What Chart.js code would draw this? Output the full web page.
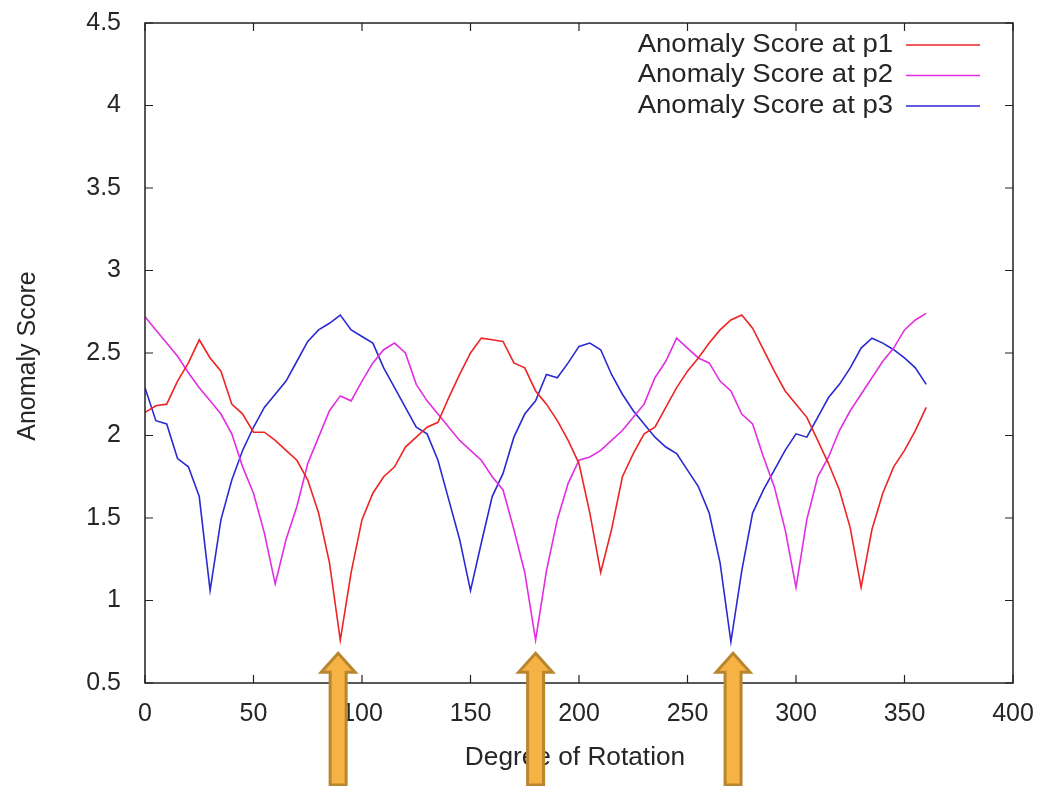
<!DOCTYPE html>
<html>
<head>
<meta charset="utf-8">
<script src="https://cdn.jsdelivr.net/npm/chart.js@4.4.1/dist/chart.umd.min.js"></script>
<style>
  html, body { margin: 0; padding: 0; background: #fff; }
  #wrap { width: 1038px; height: 786px; }
</style>
</head>
<body>
<div id="wrap"><canvas id="myChart" width="1038" height="786"></canvas></div>
<script>
// degree of rotation, every 5 degrees
var degrees = [0, 5, 10, 15, 20, 25, 30, 35, 40, 45, 50, 55, 60, 65, 70, 75, 80, 85, 90, 95,
  100, 105, 110, 115, 120, 125, 130, 135, 140, 145, 150, 155, 160, 165, 170, 175, 180, 185, 190, 195,
  200, 205, 210, 215, 220, 225, 230, 235, 240, 245, 250, 255, 260, 265, 270, 275, 280, 285, 290, 295,
  300, 305, 310, 315, 320, 325, 330, 335, 340, 345, 350, 355, 360];

var scoreP1 = [2.14, 2.18, 2.19, 2.33, 2.44, 2.58, 2.47, 2.39, 2.19, 2.13, 2.02, 2.02, 1.97, 1.91, 1.85, 1.73, 1.53, 1.23, 0.76, 1.17,
  1.49, 1.65, 1.75, 1.81, 1.93, 1.99, 2.05, 2.08, 2.23, 2.37, 2.50, 2.59, 2.58, 2.57, 2.44, 2.41, 2.27, 2.19, 2.09, 1.97,
  1.83, 1.53, 1.17, 1.43, 1.75, 1.89, 2.01, 2.05, 2.17, 2.29, 2.39, 2.47, 2.56, 2.64, 2.70, 2.73, 2.65, 2.52, 2.39, 2.27,
  2.19, 2.11, 1.97, 1.83, 1.67, 1.44, 1.08, 1.43, 1.65, 1.81, 1.91, 2.03, 2.17];

var scoreP2 = [2.72, 2.64, 2.56, 2.48, 2.38, 2.29, 2.21, 2.13, 2.01, 1.81, 1.65, 1.41, 1.10, 1.37, 1.57, 1.83, 1.99, 2.15, 2.24, 2.21,
  2.33, 2.44, 2.52, 2.56, 2.50, 2.31, 2.21, 2.13, 2.05, 1.97, 1.91, 1.85, 1.75, 1.67, 1.43, 1.17, 0.76, 1.18, 1.49, 1.71,
  1.85, 1.87, 1.91, 1.97, 2.03, 2.11, 2.19, 2.35, 2.45, 2.59, 2.53, 2.47, 2.44, 2.33, 2.27, 2.13, 2.07, 1.87, 1.69, 1.43,
  1.08, 1.49, 1.75, 1.87, 2.03, 2.15, 2.25, 2.35, 2.45, 2.53, 2.64, 2.70, 2.74];

var scoreP3 = [2.29, 2.09, 2.07, 1.86, 1.81, 1.63, 1.06, 1.49, 1.73, 1.91, 2.05, 2.17, 2.25, 2.33, 2.45, 2.57, 2.64, 2.68, 2.73, 2.64,
  2.60, 2.56, 2.41, 2.29, 2.17, 2.05, 2.01, 1.85, 1.61, 1.37, 1.06, 1.35, 1.63, 1.77, 1.99, 2.13, 2.21, 2.37, 2.35, 2.44,
  2.54, 2.56, 2.52, 2.37, 2.25, 2.15, 2.07, 1.99, 1.93, 1.89, 1.79, 1.69, 1.53, 1.23, 0.75, 1.18, 1.53, 1.67, 1.79, 1.91,
  2.01, 1.99, 2.11, 2.23, 2.31, 2.41, 2.53, 2.59, 2.56, 2.52, 2.47, 2.41, 2.31];

var seriesLabels = ['Anomaly Score at p1', 'Anomaly Score at p2', 'Anomaly Score at p3'];
var seriesColors = ['#ee2424', '#e22ee2', '#2a2ad2'];

// orange arrows under the minima
var arrowDegrees = [89, 180, 271];
var arrowTip = 0.68;

var FONT = '"Liberation Sans", Arial, sans-serif';
var TEXT = '#262626';

function pts(ys) {
  return degrees.map(function (d, i) { return { x: d, y: ys[i] }; });
}

// text a bit wider than the font, like the scanned figure
function wideText(ctx, txt, x, y, sx) {
  ctx.save();
  ctx.translate(x, y);
  ctx.scale(sx, 1);
  ctx.fillText(txt, 0, 0);
  ctx.restore();
}

// box, inward ticks, axis titles, legend and arrows (gnuplot look)
var decor = {
  id: 'decor',
  afterDatasetsDraw: function (chart) {
    var ctx = chart.ctx, a = chart.chartArea;
    var xs = chart.scales.x, ys = chart.scales.y;
    ctx.save();
    ctx.strokeStyle = '#222';
    ctx.lineWidth = 1.5;
    ctx.strokeRect(a.left, a.top, a.right - a.left, a.bottom - a.top);
    ctx.lineWidth = 1.2;
    ctx.beginPath();
    xs.ticks.forEach(function (t) {
      var px = xs.getPixelForValue(t.value);
      ctx.moveTo(px, a.bottom); ctx.lineTo(px, a.bottom - 8);
      ctx.moveTo(px, a.top); ctx.lineTo(px, a.top + 8);
    });
    ys.ticks.forEach(function (t) {
      var py = ys.getPixelForValue(t.value);
      ctx.moveTo(a.left, py); ctx.lineTo(a.left + 8, py);
      ctx.moveTo(a.right, py); ctx.lineTo(a.right - 8, py);
    });
    ctx.stroke();

    // titles
    ctx.fillStyle = TEXT;
    ctx.font = '25px ' + FONT;
    ctx.textAlign = 'center';
    ctx.textBaseline = 'middle';
    wideText(ctx, 'Degree of Rotation', (a.left + a.right) / 2 - 4, 758, 1.05);
    ctx.save();
    ctx.translate(28, (a.top + a.bottom) / 2 + 3);
    ctx.rotate(-Math.PI / 2);
    ctx.fillText('Anomaly Score', 0, 0);
    ctx.restore();

    // legend
    ctx.font = '25px ' + FONT;
    ctx.textAlign = 'right';
    chart.data.datasets.forEach(function (ds, i) {
      var y = 45 + i * 30.5;
      ctx.fillStyle = TEXT;
      wideText(ctx, ds.label, 893, y, 1.1);
      ctx.strokeStyle = ds.borderColor;
      ctx.lineWidth = 1.5;
      ctx.beginPath();
      ctx.moveTo(906, y); ctx.lineTo(980, y);
      ctx.stroke();
    });

    // arrows
    var H = chart.height;
    arrowDegrees.forEach(function (d) {
      var cx = xs.getPixelForValue(d);
      var tip = ys.getPixelForValue(arrowTip);
      var headH = 19, headW = 17, shaftW = 8;
      ctx.beginPath();
      ctx.moveTo(cx, tip);
      ctx.lineTo(cx + headW, tip + headH);
      ctx.lineTo(cx + shaftW, tip + headH);
      ctx.lineTo(cx + shaftW, H - 1);
      ctx.lineTo(cx - shaftW, H - 1);
      ctx.lineTo(cx - shaftW, tip + headH);
      ctx.lineTo(cx - headW, tip + headH);
      ctx.closePath();
      ctx.fillStyle = '#f7b245';
      ctx.fill();
      ctx.strokeStyle = '#b8862e';
      ctx.lineWidth = 3;
      ctx.lineJoin = 'miter';
      ctx.stroke();
    });
    ctx.restore();
  }
};

function noPad(s) {
  s.paddingTop = 0; s.paddingBottom = 0; s.paddingLeft = 0; s.paddingRight = 0;
}

var ctx = document.getElementById('myChart').getContext('2d');
var chart = new Chart(ctx, {
  type: 'line',
  data: {
    datasets: [0, 1, 2].map(function (i) {
      return {
        label: seriesLabels[i],
        data: pts([scoreP1, scoreP2, scoreP3][i]),
        borderColor: seriesColors[i],
        backgroundColor: seriesColors[i],
        borderWidth: 1.6,
        pointRadius: 0,
        fill: false,
        tension: 0
      };
    })
  },
  options: {
    responsive: false,
    animation: false,
    layout: { padding: { left: 0, right: 25, top: 23, bottom: 0 } },
    plugins: { legend: { display: false }, tooltip: { enabled: false } },
    scales: {
      x: {
        type: 'linear', min: 0, max: 400,
        ticks: { stepSize: 50, color: TEXT, padding: 16, font: { size: 25, family: FONT }, maxRotation: 0 },
        grid: { display: false, drawTicks: false },
        border: { display: false },
        afterFit: function (s) { s.height = 103; noPad(s); }
      },
      y: {
        min: 0.5, max: 4.5,
        ticks: {
          stepSize: 0.5, color: TEXT, padding: 24, font: { size: 25, family: FONT },
          callback: function (v) { return String(v); }
        },
        grid: { display: false, drawTicks: false },
        border: { display: false },
        afterFit: function (s) { s.width = 145; noPad(s); }
      }
    }
  },
  plugins: [decor]
});
</script>
</body>
</html>
